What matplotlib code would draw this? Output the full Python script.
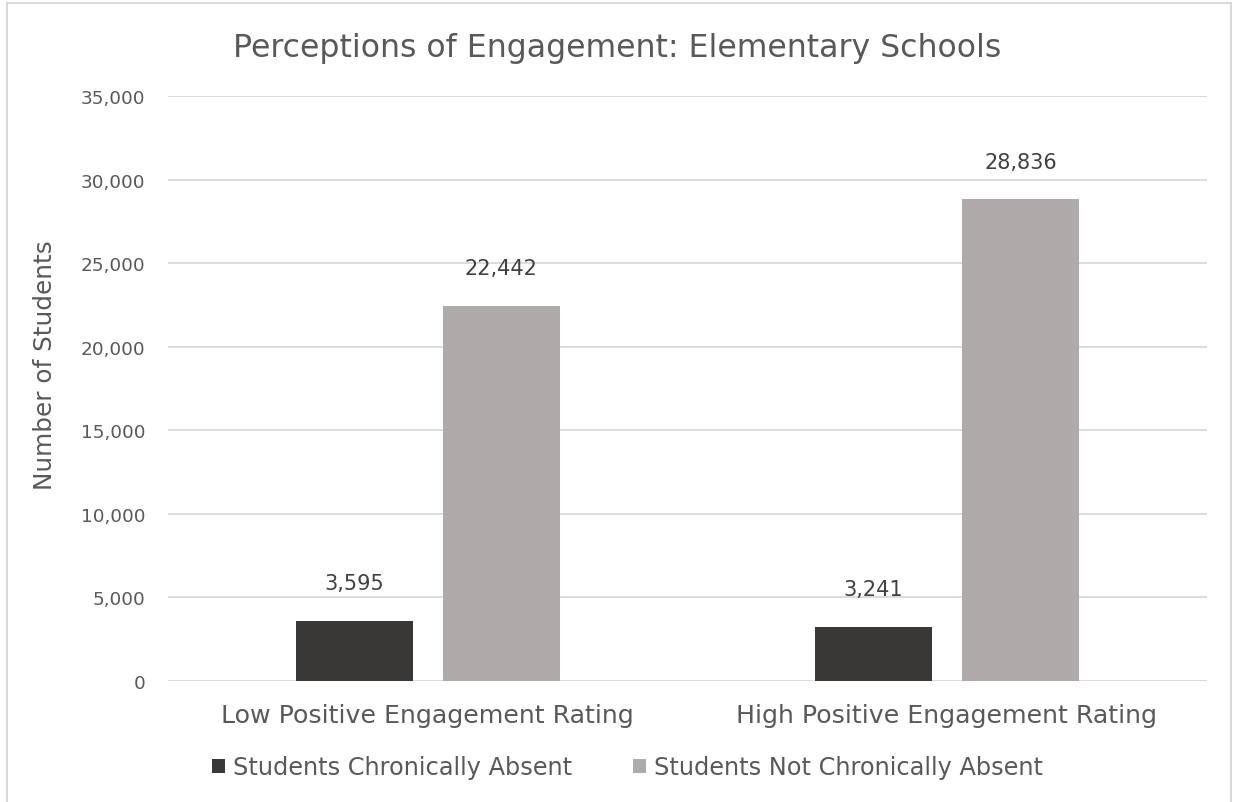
import matplotlib.pyplot as plt
from matplotlib.patches import Rectangle
from matplotlib.ticker import FuncFormatter
import numpy as np

# Daten
categories = ['Low Positive Engagement Rating', 'High Positive Engagement Rating']
series_names = ['Students Chronically Absent', 'Students Not Chronically Absent']
absent = [3595, 3241]
not_absent = [22442, 28836]

text_color = '#595959'
colors = ['#3a3837', '#aeaaaa']

plt.rcParams['font.family'] = ['DejaVu Sans']

fig = plt.figure(figsize=(12.35, 8.03), dpi=100)
ax = fig.add_axes([0.136, 0.1507, 0.841, 0.7283])

x = np.arange(len(categories))
w = 0.225
off = 0.1415
bars1 = ax.bar(x - off, absent, w, color=colors[0], label=series_names[0], zorder=3)
bars2 = ax.bar(x + off, not_absent, w, color=colors[1], label=series_names[1], zorder=3)

# Wertebeschriftungen
for bars in (bars1, bars2):
    for b in bars:
        ax.text(b.get_x() + b.get_width() / 2, b.get_height() + 1650,
                f'{int(b.get_height()):,}', ha='center', va='bottom',
                fontsize=15, color='#404040', zorder=4)

ax.set_xlim(-0.5, 1.5)
ax.set_ylim(0, 35000)
ax.set_yticks(np.arange(0, 35001, 5000))
ax.yaxis.set_major_formatter(FuncFormatter(lambda v, p: f'{int(v):,}'))
ax.set_xticks(x)
ax.set_xticklabels(categories, fontsize=18.2, color=text_color)
ax.tick_params(axis='y', labelsize=13.3, colors=text_color, length=0, pad=16.5)
ax.tick_params(axis='x', length=0, pad=16)
ax.grid(axis='y', color='#d9d9d9', linewidth=1.3, zorder=0)
for s in ax.spines.values():
    s.set_visible(False)

# Achsentitel etwas oberhalb der Mitte wie im Original
fig.text(45 / 1235, 1 - 365 / 803, 'Number of Students', rotation=90,
         ha='center', va='center', fontsize=17.8, color=text_color)
fig.text(0.5, 0.939, 'Perceptions of Engagement: Elementary Schools',
         ha='center', va='center', fontsize=22.7, color=text_color)

leg = fig.legend(handles=[bars1, bars2], labels=series_names, loc='center',
                 bbox_to_anchor=(0.508, 0.043), ncol=2, frameon=False,
                 fontsize=17.3, handlelength=0.55, handleheight=0.55,
                 handletextpad=0.3, columnspacing=2.55)
for t in leg.get_texts():
    t.set_color(text_color)

# Rahmen um das Diagramm
fig.patches.append(Rectangle((0.006, -0.01), 0.991, 1.005, transform=fig.transFigure,
                             fill=False, edgecolor='#d9d9d9', linewidth=1.5))

fig.savefig('out.png', dpi=100)
